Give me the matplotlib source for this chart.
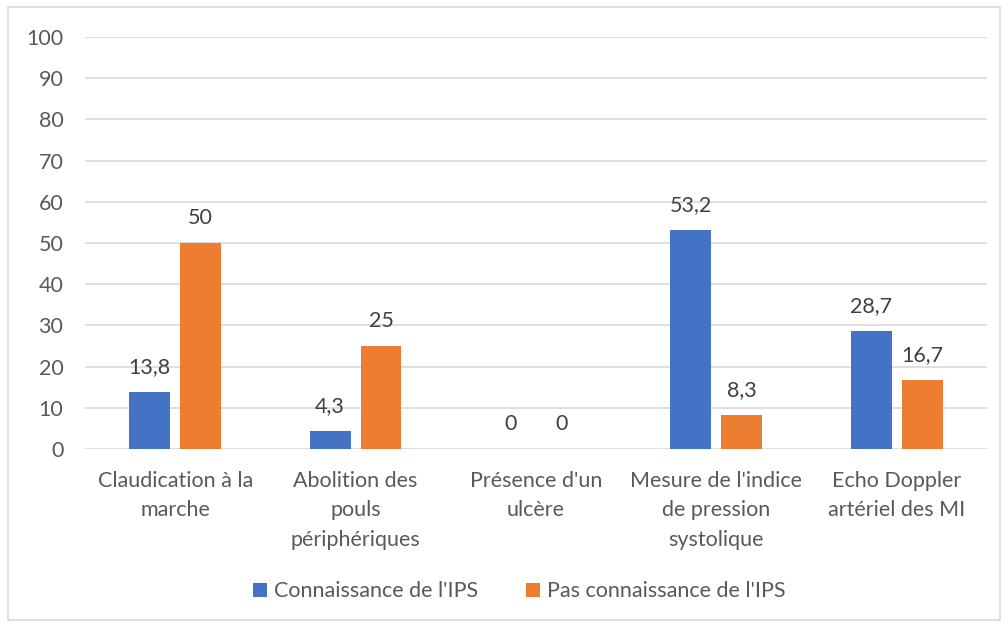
import matplotlib
matplotlib.use("Agg")
import matplotlib.pyplot as plt
import numpy as np
from matplotlib.patches import Rectangle

categories = ["Claudication à la\nmarche", "Abolition des\npouls\npériphériques",
              "Présence d'un\nulcère", "Mesure de l'indice\nde pression\nsystolique",
              "Echo Doppler\nartériel des MI"]
connaissance = [13.8, 4.3, 0, 53.2, 28.7]
pas_connaissance = [50, 25, 0, 8.3, 16.7]
series_names = ["Connaissance de l'IPS", "Pas connaissance de l'IPS"]
yticks = [0, 10, 20, 30, 40, 50, 60, 70, 80, 90, 100]

plt.rcParams['font.family'] = ['Lato', 'DejaVu Sans']
FS = 15.5

fig = plt.figure(figsize=(10.08, 6.27), dpi=100)
ax = fig.add_axes([0.0843, 0.2839, 0.8948, 0.6571])

x = np.arange(len(categories))
w = 0.227
off = 0.141
blue = "#4472C4"
orange = "#ED7D31"
b1 = ax.bar(x - off, connaissance, w, color=blue, label=series_names[0], zorder=3)
b2 = ax.bar(x + off, pas_connaissance, w, color=orange, label=series_names[1], zorder=3)

def fmt(v):
    s = ("%g" % v).replace(".", ",")
    return s

for bars, vals in ((b1, connaissance), (b2, pas_connaissance)):
    for rect, v in zip(bars, vals):
        ax.annotate(fmt(v), (rect.get_x() + rect.get_width() / 2, v),
                    xytext=(0, 18), textcoords="offset points",
                    ha="center", va="center", fontsize=FS, color="#404040")

ax.set_xlim(-0.5, len(categories) - 0.5)
ax.set_ylim(0, 100)
ax.set_yticks(yticks)
ax.set_yticklabels([str(t) for t in yticks])
ax.set_xticks(x)
ax.set_xticklabels(categories, fontsize=FS, color="#595959", linespacing=1.58, va="top")
ax.tick_params(axis="y", labelsize=FS, labelcolor="#595959", length=0, pad=15.5)
ax.tick_params(axis="x", length=0, pad=16)
ax.grid(axis="y", color="#D9D9D9", linewidth=1.2, zorder=0)
for s in ax.spines.values():
    s.set_visible(False)

leg = fig.legend(handles=[b1, b2], labels=series_names, loc="center",
                 bbox_to_anchor=(0.515, 0.057), ncol=2, frameon=False,
                 fontsize=FS, handlelength=0.65, handleheight=0.65,
                 handletextpad=0.35, columnspacing=2.2)
for t in leg.get_texts():
    t.set_color("#595959")

fig.patches.append(Rectangle((8 / 1008, 1 - 620 / 627), (1000 - 8) / 1008, (620 - 7) / 627,
                             transform=fig.transFigure, fill=False,
                             edgecolor="#D9D9D9", linewidth=1.2))

fig.savefig("out.png", dpi=100)
